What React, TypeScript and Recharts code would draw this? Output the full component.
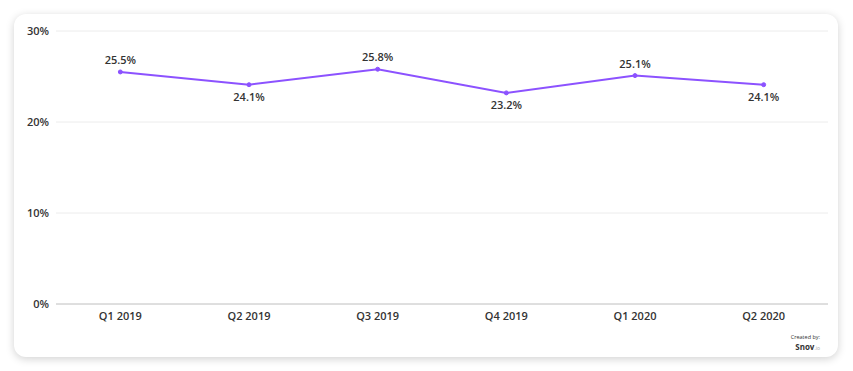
import { LineChart, Line, XAxis, YAxis, CartesianGrid, LabelList } from "recharts";

const quarters = ["Q1 2019", "Q2 2019", "Q3 2019", "Q4 2019", "Q1 2020", "Q2 2020"];
const rates = [25.5, 24.1, 25.8, 23.2, 25.1, 24.1];
const yTicks = [0, 10, 20, 30];

const data = quarters.map((q, i) => ({ quarter: q, rate: rates[i] }));

const font = "'Open Sans', sans-serif";

function PointLabel(props: any) {
  const { x, y, value, index } = props;
  const prev = index > 0 ? rates[index - 1] : -Infinity;
  const above = value > prev;
  return (
    <text
      x={x}
      y={above ? y - 11 : y + 13}
      textAnchor="middle"
      dominantBaseline="middle"
      fill="#333"
      fontSize={11}
      fontWeight={600}
      fontFamily={font}
    >
      {value.toFixed(1)}%
    </text>
  );
}

export default function App() {
  return (
    <div style={{ position: "absolute", left: 0, top: 0, width: 853, height: 371, background: "#fff" }}>
      <div
        style={{
          position: "absolute",
          left: 14,
          top: 14,
          width: 824,
          height: 343,
          borderRadius: 12,
          background: "#fff",
          boxShadow: "0 2px 8px rgba(0,0,0,0.18)",
        }}
      >
        <LineChart width={824} height={343} data={data} margin={{ top: 17, right: 10, left: 0, bottom: 23 }}>
          <CartesianGrid vertical={false} stroke="#ececec" />
          <XAxis
            dataKey="quarter"
            scale="band"
            axisLine={{ stroke: "#c8c8c8" }}
            tickLine={false}
            tickSize={0}
            tickMargin={8}
            height={30}
            tick={{ fill: "#333", fontSize: 11, fontWeight: 600, fontFamily: font }}
          />
          <YAxis
            width={42}
            domain={[0, 30]}
            ticks={yTicks}
            tickFormatter={(v: number) => `${v}%`}
            axisLine={false}
            tickLine={false}
            tickSize={0}
            tickMargin={7}
            tick={{ fill: "#333", fontSize: 11, fontWeight: 600, fontFamily: font }}
          />
          <Line
            type="linear"
            dataKey="rate"
            stroke="#8c52ff"
            strokeWidth={2}
            dot={{ r: 2, fill: "#8c52ff", stroke: "#8c52ff", strokeWidth: 1 }}
            isAnimationActive={false}
          >
            <LabelList dataKey="rate" content={<PointLabel />} />
          </Line>
        </LineChart>
        <div style={{ position: "absolute", right: 18, top: 320, fontFamily: font, color: "#333", fontSize: 5.5, lineHeight: "7px" }}>
          Created by:
        </div>
        <div style={{ position: "absolute", right: 18, top: 328, fontFamily: font, color: "#333", fontSize: 8, fontWeight: 700, lineHeight: "9px" }}>
          Snov<span style={{ fontSize: 5, fontWeight: 400, color: "#aaa" }}>.io</span>
        </div>
      </div>
    </div>
  );
}
